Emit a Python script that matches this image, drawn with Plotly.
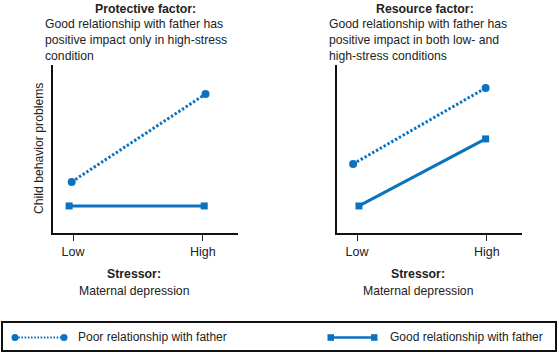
import plotly.graph_objects as go

# ---- data (y in arbitrary units 0..10) ----
levels = ["Low", "High"]
tick_vals = [0, 1]

prot_poor_x = [-0.01, 1.02]
prot_poor_y = [3.04, 8.27]
prot_good_x = [-0.03, 1.01]
prot_good_y = [1.61, 1.61]

res_poor_x = [-0.03, 0.99]
res_poor_y = [4.11, 8.63]
res_good_x = [0.015, 0.99]
res_good_y = [1.61, 5.60]

series_names = ["Poor relationship with father", "Good relationship with father"]

BLUE = "#0A72BE"
FONT = "Liberation Sans, Arial, sans-serif"
W, H = 559, 353

def px(x):
    return x / W

def py(y):
    return 1 - y / H

fig = go.Figure()

def add_panel(xa, ya, poor_x, poor_y, good_x, good_y):
    fig.add_trace(go.Scatter(x=poor_x, y=poor_y, mode="lines+markers", xaxis=xa, yaxis=ya,
                             line=dict(color=BLUE, width=3, dash="2.4px,2px"),
                             marker=dict(symbol="circle", size=8, color=BLUE),
                             showlegend=False, name=series_names[0]))
    fig.add_trace(go.Scatter(x=good_x, y=good_y, mode="lines+markers", xaxis=xa, yaxis=ya,
                             line=dict(color=BLUE, width=3),
                             marker=dict(symbol="square", size=7, color=BLUE),
                             showlegend=False, name=series_names[1]))

add_panel("x", "y", prot_poor_x, prot_poor_y, prot_good_x, prot_good_y)
add_panel("x2", "y2", res_poor_x, res_poor_y, res_good_x, res_good_y)

xcommon = dict(range=[-0.154, 1.27], tickvals=tick_vals, ticktext=levels, ticks="outside",
               ticklen=6, tickwidth=1, tickcolor="#222", showline=True, linecolor="#111",
               linewidth=2, showgrid=False, zeroline=False, fixedrange=True,
               tickfont=dict(family=FONT, size=12.5, color="#222"))
ycommon = dict(range=[0, 10], showline=True, linecolor="#111", linewidth=2, showgrid=False,
               zeroline=False, showticklabels=False, ticks="", fixedrange=True)

fig.update_layout(
    width=W, height=H, margin=dict(l=0, r=0, t=0, b=0),
    paper_bgcolor="white", plot_bgcolor="white",
    xaxis=dict(domain=[px(53), px(238)], anchor="y", **xcommon),
    yaxis=dict(domain=[py(233), py(65)], anchor="x", **ycommon),
    xaxis2=dict(domain=[px(337), px(522)], anchor="y2", **xcommon),
    yaxis2=dict(domain=[py(233), py(65)], anchor="x2", **ycommon),
    font=dict(family=FONT, size=12, color="#222"),
)

ann = []
def text(x, y, t, xanchor="center", bold=False, size=12, align="left", angle=0):
    if bold:
        t = "<b>" + t + "</b>"
    ann.append(dict(x=px(x), y=py(y), xref="paper", yref="paper", text=t, showarrow=False,
                    xanchor=xanchor, yanchor="middle", align=align, textangle=angle,
                    font=dict(family=FONT, size=size, color="#222")))

text(145, 8.5, "Protective factor:", bold=True, size=12.3)
text(43, 39.5, "Good relationship with father has<br>positive impact only in high-stress<br>condition", xanchor="left", size=12.2)
text(425, 8.5, "Resource factor:", bold=True, size=12.3)
text(327, 39.5, "Good relationship with father has<br>positive impact in both low- and<br>high-stress conditions", xanchor="left", size=12.2)
text(39, 149, "Child behavior problems", angle=-90, size=12.2)
text(134, 274, "Stressor:", bold=True, size=12.3)
text(134, 291, "Maternal depression", size=12.2)
text(418, 274, "Stressor:", bold=True, size=12.3)
text(418, 291, "Maternal depression", size=12.2)
text(76, 337, series_names[0], xanchor="left", size=12)
text(388, 337, series_names[1], xanchor="left", size=12)

shapes = [
    dict(type="rect", xref="paper", yref="paper", x0=px(2), x1=px(556), y0=py(351), y1=py(322),
         line=dict(color="#111", width=2)),
    dict(type="line", xref="paper", yref="paper", x0=px(15), x1=px(64), y0=py(337.5), y1=py(337.5),
         line=dict(color=BLUE, width=2, dash="1.6px,1.6px")),
    dict(type="circle", xref="paper", yref="paper", x0=px(11.5), x1=px(18.5), y0=py(341), y1=py(334),
         fillcolor=BLUE, line=dict(width=0)),
    dict(type="circle", xref="paper", yref="paper", x0=px(60.5), x1=px(67.5), y0=py(341), y1=py(334),
         fillcolor=BLUE, line=dict(width=0)),
    dict(type="line", xref="paper", yref="paper", x0=px(330), x1=px(375), y0=py(337.5), y1=py(337.5),
         line=dict(color=BLUE, width=2.4)),
    dict(type="rect", xref="paper", yref="paper", x0=px(327.5), x1=px(334), y0=py(340.8), y1=py(334.2),
         fillcolor=BLUE, line=dict(width=0)),
    dict(type="rect", xref="paper", yref="paper", x0=px(371), x1=px(377.5), y0=py(340.8), y1=py(334.2),
         fillcolor=BLUE, line=dict(width=0)),
]

fig.update_layout(annotations=ann, shapes=shapes)
fig.write_html("out.html")
